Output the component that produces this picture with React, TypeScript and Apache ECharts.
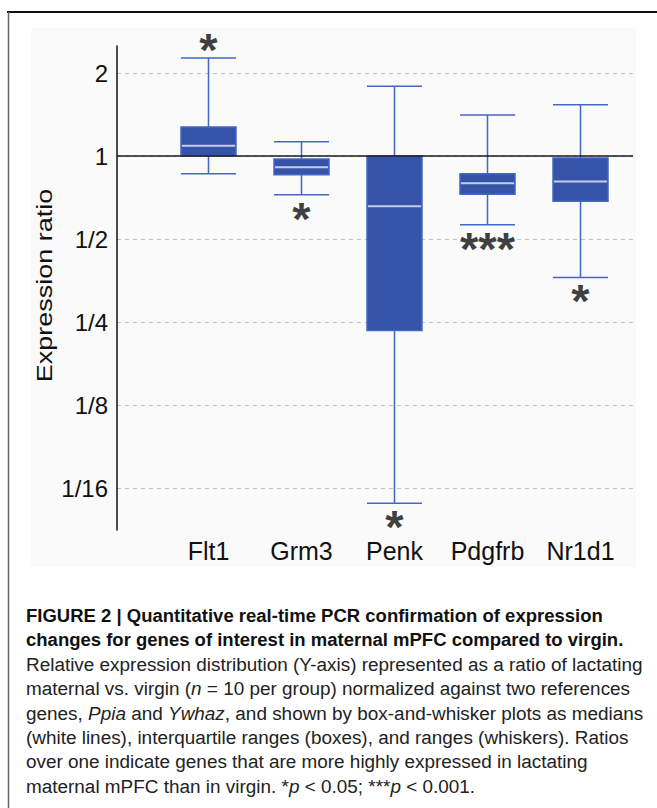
import React, { useEffect, useRef } from 'react';
import * as echarts from 'echarts';

// ---- data ----
const genes = ['Flt1', 'Grm3', 'Penk', 'Pdgfrb', 'Nr1d1'];
const whiskerLow = [0.863, 0.724, 0.0551, 0.563, 0.363];
const quartile1 = [1.003, 0.855, 0.233, 0.726, 0.685];
const medians = [1.09, 0.91, 0.657, 0.796, 0.809];
const quartile3 = [1.274, 0.975, 1.0, 0.863, 0.983];
const whiskerHigh = [2.267, 1.127, 1.79, 1.408, 1.535];
const sigMarks = ['*', '*', '*', '***', '*'];
const sigAbove = [true, false, false, false, false];
const yTickValues = [2, 1, 0.5, 0.25, 0.125, 0.0625];
const yTickLabels = ['2', '1', '1/2', '1/4', '1/8', '1/16'];
const referenceRatio = 1;
const yMin = 0.04404;
const yMax = 2.506;
const yTitle = 'Expression ratio';

const captionBoldLines = [
  'FIGURE 2 | Quantitative real-time PCR confirmation of expression',
  'changes for genes of interest in maternal mPFC compared to virgin.',
];
const captionLines = [
  '{r|Relative expression distribution (Y-axis) represented as a ratio of lactating}',
  '{r|maternal vs. virgin (}{i|n}{r| = 10 per group) normalized against two references}',
  '{r|genes, }{i|Ppia}{r| and }{i|Ywhaz}{r|, and shown by box-and-whisker plots as medians}',
  '{r|(white lines), interquartile ranges (boxes), and ranges (whiskers). Ratios}',
  '{r|over one indicate genes that are more highly expressed in lactating}',
  '{r|maternal mPFC than in virgin. *}{i|p}{r| < 0.05; ***}{i|p}{r| < 0.001.}',
];

const FONT = "'Liberation Sans', Arial, Helvetica, sans-serif";

function measure(font: string, text: string): number {
  const c = document.createElement('canvas');
  const ctx = c.getContext('2d');
  if (!ctx) return 1;
  ctx.font = font;
  return ctx.measureText(text).width;
}

function stripRich(s: string): string {
  return s.replace(/\{[a-z]+\|([^}]*)\}/g, '$1');
}

export default function App() {
  const ref = useRef<HTMLDivElement>(null);
  useEffect(() => {
    if (!ref.current) return;
    const chart = echarts.init(ref.current, null, { renderer: 'svg' });

    const capSize = 19;
    const boldW = measure(`bold ${capSize}px 'Liberation Sans'`, captionBoldLines[0]);
    const regW = measure(`${capSize}px 'Liberation Sans'`, stripRich(captionLines[0]));
    const boldScale = 577 / boldW;
    const regScale = 617 / regW;
    const capX = 26;
    const capBase = 615.4;
    const capStep = 24.4;

    const captionEls: any[] = [];
    captionBoldLines.forEach((t, i) => {
      captionEls.push({
        type: 'text',
        x: capX,
        y: capBase + i * capStep,
        scaleX: boldScale,
        silent: true,
        style: {
          text: t,
          fontFamily: FONT,
          fontSize: capSize,
          fontWeight: 'bold',
          fill: '#111',
          align: 'left',
          verticalAlign: 'middle',
        },
      });
    });
    captionLines.forEach((t, j) => {
      const i = j + captionBoldLines.length;
      captionEls.push({
        type: 'text',
        x: capX,
        y: capBase + i * capStep,
        scaleX: regScale,
        silent: true,
        style: {
          text: t,
          fontFamily: FONT,
          fontSize: capSize,
          fill: '#222',
          align: 'left',
          verticalAlign: 'middle',
          rich: {
            r: { fontFamily: FONT, fontSize: capSize, fill: '#222' },
            i: { fontFamily: FONT, fontSize: capSize, fontStyle: 'italic', fill: '#222' },
          },
        },
      });
    });

    const tickLabel = (v: number) => {
      for (let k = 0; k < yTickValues.length; k++) {
        if (Math.abs(Math.log2(v) - Math.log2(yTickValues[k])) < 1e-6) return yTickLabels[k];
      }
      return '';
    };

    const boxData = genes.map((_, i) => [
      whiskerLow[i],
      quartile1[i],
      medians[i],
      quartile3[i],
      whiskerHigh[i],
    ]);

    const sigSeries = (above: boolean) => ({
      type: 'scatter',
      xAxisIndex: 1,
      yAxisIndex: 1,
      data: genes
        .map((g, i) => ({ i, g }))
        .filter(({ i }) => sigAbove[i] === above)
        .map(({ i, g }) => ({
          value: [g, above ? whiskerHigh[i] : whiskerLow[i]],
          mark: sigMarks[i],
        })),
      symbol: 'circle',
      symbolSize: 2,
      symbolOffset: [0, above ? -8.5 : 23.5],
      silent: true,
      itemStyle: { color: 'rgba(0,0,0,0)' },
      label: {
        show: true,
        position: 'inside',
        formatter: (p: any) => p.data.mark,
        fontFamily: FONT,
        fontSize: 47,
        lineHeight: 20,
        fontWeight: 'bold',
        color: '#0d0d0d',
      },
      labelLayout: { hideOverlap: false },
      z: 6,
    });

    chart.setOption({
      animation: false,
      grid: [
        { left: 117, right: 24, top: 46, bottom: 278 },
        { left: 162, right: 30, top: 46, bottom: 278 },
      ],
      xAxis: [
        { type: 'value', gridIndex: 0, min: 0, max: 1, show: false },
        {
          type: 'category',
          gridIndex: 1,
          data: genes,
          axisLine: { show: false },
          axisTick: { show: false },
          splitLine: { show: false },
          axisLabel: {
            interval: 0,
            fontFamily: FONT,
            fontSize: 25,
            color: '#111',
            margin: 8,
          },
        },
      ],
      yAxis: [
        {
          type: 'log',
          logBase: 2,
          gridIndex: 0,
          min: yMin,
          max: yMax,
          axisLine: { show: true, lineStyle: { color: '#111', width: 1.5 } },
          axisTick: { show: false },
          axisLabel: {
            formatter: tickLabel,
            fontFamily: FONT,
            fontSize: 24,
            color: '#111',
            margin: 9,
            showMinLabel: false,
            showMaxLabel: false,
          },
          splitLine: {
            show: true,
            showMinLine: false,
            showMaxLine: false,
            lineStyle: { color: '#c4c4c4', type: [4, 4], width: 1.2 },
          },
        },
        {
          type: 'log',
          logBase: 2,
          gridIndex: 1,
          min: yMin,
          max: yMax,
          show: false,
          splitLine: { show: false },
        },
      ],
      graphic: [
        {
          type: 'rect',
          z: -10,
          silent: true,
          shape: { x: 31, y: 28, width: 605, height: 539 },
          style: { fill: '#fafafa' },
        },
        {
          type: 'line',
          silent: true,
          shape: { x1: 7, y1: 12, x2: 657, y2: 12 },
          style: { stroke: '#111', lineWidth: 2 },
        },
        {
          type: 'line',
          silent: true,
          shape: { x1: 8.5, y1: 12, x2: 8.5, y2: 808 },
          style: { stroke: '#666', lineWidth: 1.5 },
        },
        {
          type: 'text',
          x: 44,
          y: 285.5,
          rotation: Math.PI / 2,
          scaleY: 0.81,
          silent: true,
          style: {
            text: yTitle,
            fontFamily: FONT,
            fontSize: 27,
            fill: '#111',
            align: 'center',
            verticalAlign: 'middle',
          },
        },
        ...captionEls,
      ],
      series: [
        {
          type: 'line',
          xAxisIndex: 0,
          yAxisIndex: 0,
          data: [
            [0, referenceRatio],
            [1, referenceRatio],
          ],
          symbol: 'none',
          silent: true,
          lineStyle: { color: '#1a1a1a', width: 1.5 },
        },
        {
          type: 'boxplot',
          xAxisIndex: 1,
          yAxisIndex: 1,
          data: boxData,
          boxWidth: [55, 55],
          silent: true,
          itemStyle: { color: '#3553a8', borderColor: '#4466c4', borderWidth: 1.5 },
        },
        {
          type: 'scatter',
          xAxisIndex: 1,
          yAxisIndex: 1,
          data: genes.map((g, i) => [g, medians[i]]),
          symbol: 'rect',
          symbolSize: [53, 2],
          silent: true,
          itemStyle: { color: '#e4e9f4' },
          z: 5,
        },
        sigSeries(true),
        sigSeries(false),
      ],
    });
    return () => chart.dispose();
  }, []);
  return (
    <div
      ref={ref}
      style={{ position: 'absolute', left: 0, top: 0, width: 657, height: 808 }}
    />
  );
}
